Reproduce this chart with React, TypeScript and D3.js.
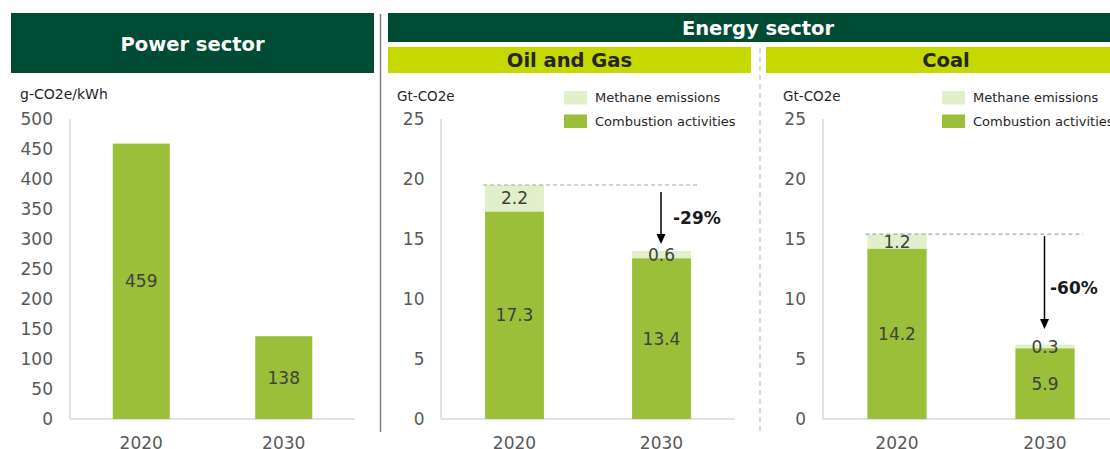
import React from "react";
import * as d3 from "d3";

const years = ["2020", "2030"];
const powerValues = [459, 138];
const oilCombustion = [17.3, 13.4];
const oilMethane = [2.2, 0.6];
const coalCombustion = [14.2, 5.9];
const coalMethane = [1.2, 0.3];
const powerTicks = [0, 50, 100, 150, 200, 250, 300, 350, 400, 450, 500];
const energyTicks = [0, 5, 10, 15, 20, 25];
const legendLabels = ["Methane emissions", "Combustion activities"];
const oilChange = "-29%";
const coalChange = "-60%";

const DARK = "#004B33";
const LIME = "#C5D800";
const GREEN = "#9BBF38";
const LIGHT = "#E2EFCB";
const FONT = "'DejaVu Sans', Verdana, sans-serif";
const TICK = "#595959";
const LABEL = "#404040";
const AXIS = "#D9D9D9";

const TOP = 119;
const BASE = 419;

function Axis({ y, ticks, x0, x1, labelRight }: any) {
  return (
    <g>
      <line x1={x0} x2={x0} y1={TOP} y2={BASE} stroke={AXIS} strokeWidth={1.5} />
      <line x1={x0} x2={x1} y1={BASE} y2={BASE} stroke={AXIS} strokeWidth={1.5} />
      {ticks.map((t: number) => (
        <text key={t} x={labelRight} y={y(t)} dy="0.36em" textAnchor="end" fontSize={17} fill={TICK} fontFamily={FONT}>
          {t}
        </text>
      ))}
    </g>
  );
}

function CatLabels({ x }: any) {
  return (
    <g>
      {years.map((yr) => (
        <text key={yr} x={(x(yr) as number) + x.bandwidth() / 2} y={449} textAnchor="middle" fontSize={17} fill={TICK} fontFamily={FONT}>
          {yr}
        </text>
      ))}
    </g>
  );
}

function StackPanel({ x0, x1, labelRight, unitX, legendX, comb, meth, change, arrowTop, arrowTip, dashEnd, pctX, pctY }: any) {
  const y = d3.scaleLinear().domain([0, 25]).range([BASE, TOP]);
  const x = d3.scaleBand().domain(years).range([x0, x1]).paddingInner(0.6).paddingOuter(0.3);
  const bw = x.bandwidth();
  const total0 = comb[0] + meth[0];
  const x2030 = (x("2030") as number) + bw / 2;
  return (
    <g>
      <text x={unitX} y={101} fontSize={13.5} fill="#262626" fontFamily={FONT}>Gt-CO2e</text>
      {legendLabels.map((l, i) => (
        <g key={l}>
          <rect x={legendX} y={91 + i * 23.5} width={23} height={13.5} fill={i === 0 ? LIGHT : GREEN} />
          <text x={legendX + 31} y={102 + i * 23.5} fontSize={13} fill="#262626" fontFamily={FONT}>{l}</text>
        </g>
      ))}
      <Axis y={y} ticks={energyTicks} x0={x0} x1={x1} labelRight={labelRight} />
      {years.map((yr, i) => {
        const bx = x(yr) as number;
        const c = comb[i];
        const m = meth[i];
        return (
          <g key={yr}>
            <rect x={bx} y={y(c)} width={bw} height={y(0) - y(c)} fill={GREEN} />
            <rect x={bx} y={y(c + m)} width={bw} height={y(c) - y(c + m)} fill={LIGHT} />
            <text x={bx + bw / 2} y={(y(0) + y(c)) / 2} dy="0.36em" textAnchor="middle" fontSize={17} fill={LABEL} fontFamily={FONT}>{c}</text>
            <text x={bx + bw / 2} y={(y(c) + y(c + m)) / 2} dy="0.36em" textAnchor="middle" fontSize={17} fill={LABEL} fontFamily={FONT}>{m}</text>
          </g>
        );
      })}
      <line x1={(x("2020") as number) - 2} x2={dashEnd} y1={y(total0)} y2={y(total0)} stroke="#A6A6A6" strokeWidth={1.2} strokeDasharray="4,3" />
      <line x1={x2030 - 0.5} x2={x2030 - 0.5} y1={y(total0) + arrowTop} y2={arrowTip - 8} stroke="#000" strokeWidth={1.5} />
      <path d={`M${x2030 - 5},${arrowTip - 10} L${x2030 + 4},${arrowTip - 10} L${x2030 - 0.5},${arrowTip} Z`} fill="#000" />
      <text x={pctX} y={pctY} dy="0.36em" fontSize={17} fontWeight="bold" fill="#1a1a1a" fontFamily={FONT}>{change}</text>
      <CatLabels x={x} />
    </g>
  );
}

export default function App() {
  const yP = d3.scaleLinear().domain([0, 500]).range([BASE, TOP]);
  const xP = d3.scaleBand().domain(years).range([70, 355]).paddingInner(0.6).paddingOuter(0.3);
  const bwP = xP.bandwidth();
  return (
    <div style={{ position: "absolute", left: 0, top: 0 }}>
      <svg width={1110} height={449} style={{ display: "block" }}>
        <rect width={1110} height={449} fill="#fff" />
        <rect x={11} y={13} width={363} height={60} fill={DARK} />
        <text x={192.5} y={44} dy="0.36em" textAnchor="middle" fontSize={19.5} fontWeight="bold" fill="#fff" fontFamily={FONT}>Power sector</text>
        <rect x={388} y={13} width={722} height={29} fill={DARK} />
        <text x={758} y={28} dy="0.36em" textAnchor="middle" fontSize={19.5} fontWeight="bold" fill="#fff" fontFamily={FONT}>Energy sector</text>
        <rect x={388} y={47} width={363} height={26} fill={LIME} />
        <text x={569.5} y={60} dy="0.36em" textAnchor="middle" fontSize={19.5} fontWeight="bold" fill="#262626" fontFamily={FONT}>Oil and Gas</text>
        <rect x={766} y={47} width={344} height={26} fill={LIME} />
        <text x={946} y={60} dy="0.36em" textAnchor="middle" fontSize={19.5} fontWeight="bold" fill="#262626" fontFamily={FONT}>Coal</text>
        <line x1={380.5} x2={380.5} y1={14} y2={432} stroke="#808080" strokeWidth={1.5} />
        <line x1={760} x2={760} y1={48} y2={432} stroke="#BFBFBF" strokeWidth={1.2} strokeDasharray="5,4" />
        <text x={20} y={99} fontSize={14} fill="#262626" fontFamily={FONT}>g-CO2e/kWh</text>
        <Axis y={yP} ticks={powerTicks} x0={70} x1={355} labelRight={53} />
        {years.map((yr, i) => {
          const bx = xP(yr) as number;
          const v = powerValues[i];
          return (
            <g key={yr}>
              <rect x={bx} y={yP(v)} width={bwP} height={yP(0) - yP(v)} fill={GREEN} />
              <text x={bx + bwP / 2} y={(yP(0) + yP(v)) / 2} dy="0.36em" textAnchor="middle" fontSize={17} fill={LABEL} fontFamily={FONT}>{v}</text>
            </g>
          );
        })}
        <CatLabels x={xP} />
        <StackPanel x0={441} x1={735} labelRight={424.5} unitX={397} legendX={564} comb={oilCombustion} meth={oilMethane} change={oilChange} arrowTop={7} arrowTip={244} dashEnd={698} pctX={673} pctY={218} />
        <StackPanel x0={823} x1={1119} labelRight={806} unitX={783} legendX={942} comb={coalCombustion} meth={coalMethane} change={coalChange} arrowTop={2} arrowTip={329} dashEnd={1083} pctX={1050} pctY={288} />
      </svg>
    </div>
  );
}
